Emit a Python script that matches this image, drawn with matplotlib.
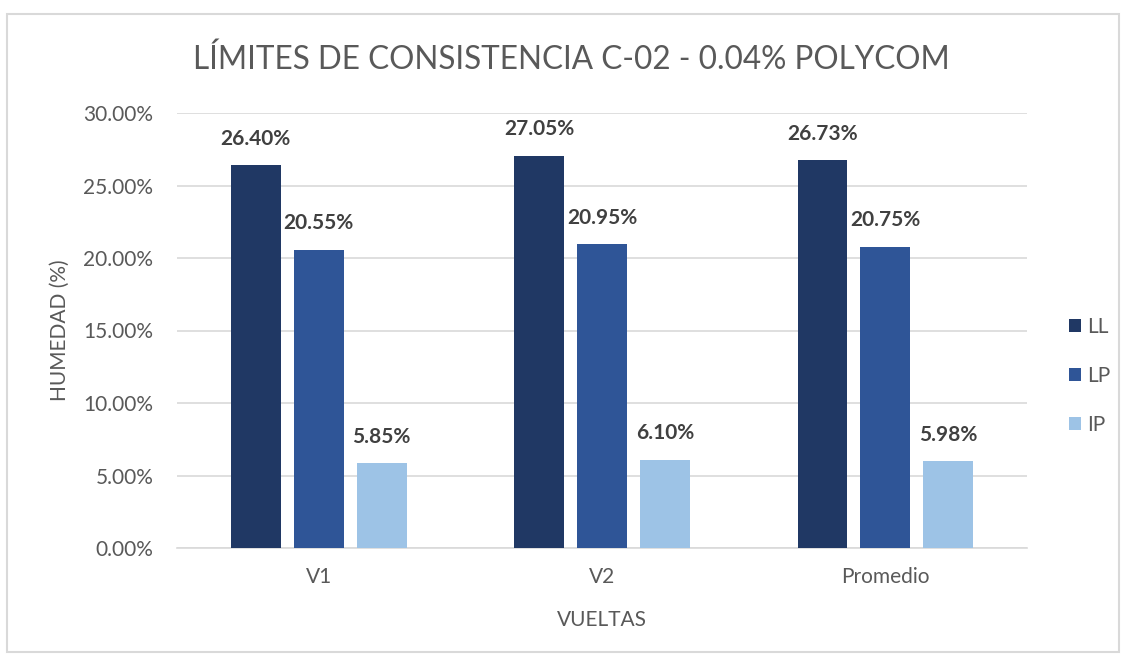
import matplotlib
matplotlib.use("Agg")
import matplotlib.pyplot as plt
from matplotlib.patches import Rectangle
from matplotlib.ticker import FuncFormatter
import numpy as np

categories = ["V1", "V2", "Promedio"]
series_names = ["LL", "LP", "IP"]
LL = [26.40, 27.05, 26.73]
LP = [20.55, 20.95, 20.75]
IP = [5.85, 6.10, 5.98]
values = [LL, LP, IP]
colors = ["#203864", "#2F5597", "#9DC3E6"]
yticks = [0, 5, 10, 15, 20, 25, 30]

plt.rcParams['font.family'] = ['Lato', 'DejaVu Sans']
gray = "#595959"

fig = plt.figure(figsize=(11.26, 6.57), dpi=100)
fig.patches.append(Rectangle((7/1126, 1 - 652/657), 1112/1126, 638/657,
                             transform=fig.transFigure, fill=False,
                             edgecolor="#D9D9D9", linewidth=1.5))
ax = fig.add_axes([177/1126, 1 - 548/657, 850/1126, 435/657])

x = np.arange(len(categories))
offsets = [-0.222, 0.0, 0.222]
width = 0.176
for vals, name, col, off in zip(values, series_names, colors, offsets):
    bars = ax.bar(x + off, vals, width, color=col, label=name, zorder=3)
    for b, v in zip(bars, vals):
        ax.annotate(f"{v:.2f}%", (b.get_x() + b.get_width() / 2, v),
                    xytext=(0, 12), textcoords="offset points",
                    ha="center", va="bottom", fontsize=15, fontweight="bold",
                    color="#404040")

ax.set_xlim(-0.5, 2.5)
ax.set_ylim(0, 30)
ax.set_yticks(yticks)
ax.yaxis.set_major_formatter(FuncFormatter(lambda v, p: f"{v:.2f}%"))
ax.set_xticks(x)
ax.set_xticklabels(categories)
ax.grid(axis="y", color="#D9D9D9", linewidth=1.2, zorder=0)
for s in ["top", "right", "left"]:
    ax.spines[s].set_visible(False)
ax.spines["bottom"].set_color("#D9D9D9")
ax.spines["bottom"].set_linewidth(1.2)
ax.tick_params(axis="both", length=0, labelsize=15, colors=gray)
ax.tick_params(axis="y", pad=17)
ax.tick_params(axis="x", pad=14)
ax.set_ylabel("HUMEDAD (%)", fontsize=15, color=gray, labelpad=10)
ax.set_xlabel("VUELTAS", fontsize=15, color=gray, labelpad=16)

fig.text(571/1126, 1 - 60/657, "LÍMITES DE CONSISTENCIA C-02 - 0.04% POLYCOM",
         ha="center", va="center", fontsize=22.7, color=gray)

leg = fig.legend(loc="center left", bbox_to_anchor=(1050/1126, 1 - 376/657),
                 frameon=False, fontsize=15, labelcolor=gray,
                 handlelength=0.6, handleheight=0.6, handletextpad=0.3,
                 labelspacing=1.4)

fig.savefig("out.png", dpi=100)
